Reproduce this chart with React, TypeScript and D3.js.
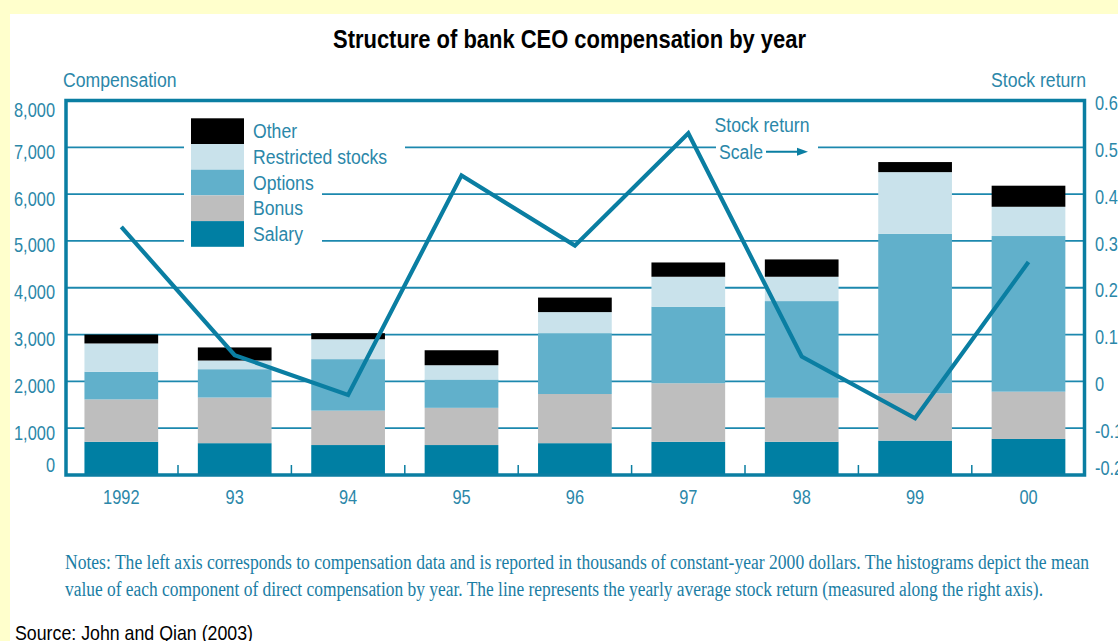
import React from "react";
import * as d3 from "d3";

const years = ["1992", "93", "94", "95", "96", "97", "98", "99", "00"];
const salary = [710, 680, 640, 640, 680, 710, 710, 735, 770];
const bonus = [905, 975, 735, 795, 1050, 1250, 940, 1010, 1010];
const options = [590, 605, 1100, 605, 1300, 1635, 2065, 3405, 3325];
const restricted = [605, 185, 425, 305, 450, 640, 520, 1320, 625];
const other = [190, 280, 130, 320, 310, 305, 370, 215, 450];
const stockReturn = [0.33, 0.056, -0.029, 0.44, 0.29, 0.53, 0.053, -0.079, 0.255];

const seriesKeys = ["salary", "bonus", "options", "restricted", "other"];
const seriesNames = ["Salary", "Bonus", "Options", "Restricted stocks", "Other"];
const seriesColors = ["#007fa3", "#bebebe", "#61b0cb", "#c9e2eb", "#000000"];

const leftTicks = [0, 1000, 2000, 3000, 4000, 5000, 6000, 7000, 8000];
const rightTicks = [-0.2, -0.1, 0, 0.1, 0.2, 0.3, 0.4, 0.5, 0.6];

const title = "Structure of bank CEO compensation by year";
const noteLine1 =
  "Notes: The left axis corresponds to compensation data and is reported in thousands of constant-year 2000 dollars. The histograms depict the mean";
const noteLine2 =
  "value of each component of direct compensation by year. The line represents the yearly average stock return (measured along the right axis).";
const source = "Source: John and Qian (2003)";

const W = 1118;
const H = 641;
const PL = 66;
const PR = 1084.5;
const PT = 100.5;
const PB = 475;

const TEAL = "#0a7ea2";
const TXT = "#2b87a9";
const SANS = "'Liberation Sans', Arial, sans-serif";

function CT(props: any) {
  const { x, y, sx = 0.84, size = 21, anchor = "start", fill = TXT, children, weight } = props;
  return (
    <text
      transform={`translate(${x},${y}) scale(${sx},1)`}
      fontFamily={SANS}
      fontSize={size}
      textAnchor={anchor}
      fill={fill}
      fontWeight={weight}
    >
      {children}
    </text>
  );
}

export default function App() {
  const data = years.map((yr, i) => ({
    year: yr,
    salary: salary[i],
    bonus: bonus[i],
    options: options[i],
    restricted: restricted[i],
    other: other[i],
  }));
  const stacked = d3.stack<any>().keys(seriesKeys)(data);

  const x = d3
    .scaleBand()
    .domain(years)
    .range([64.6, 1085.2])
    .paddingInner(0.35)
    .paddingOuter(0.175);
  const y = d3.scaleLinear().domain([0, 8000]).range([PB, PT]);
  const yr = d3.scaleLinear().domain([-0.2, 0.6]).range([PB, PT]);

  const line = d3
    .line<number>()
    .x((_, i) => (x(years[i]) as number) + x.bandwidth() / 2)
    .y((d) => yr(d));

  const fmtL = d3.format(",");
  const fmtR = (v: number) => (Math.abs(v) < 1e-9 ? "0" : v.toFixed(1));

  const legendTop = 118.3;
  const legendRow = 25.7;
  const legendOrder = [4, 3, 2, 1, 0];

  const arrowY = 151.7;

  return (
    <svg
      width={W}
      height={H}
      style={{ position: "absolute", left: 0, top: 0 }}
      xmlns="http://www.w3.org/2000/svg"
    >
      <rect x={0} y={0} width={W} height={H} fill="#ffffcc" />
      <rect x={10} y={14} width={W - 10} height={H - 14} fill="#ffffff" />

      {/* title */}
      <text
        x={333}
        y={48}
        fontFamily={SANS}
        fontWeight="bold"
        fontSize={25}
        textLength={473}
        lengthAdjust="spacingAndGlyphs"
        fill="#000"
      >
        {title}
      </text>

      {/* axis titles */}
      <CT x={63} y={87}>Compensation</CT>
      <CT x={1086} y={87} anchor="end">Stock return</CT>

      {/* gridlines */}
      {leftTicks
        .filter((t) => t > 0 && t < 8000)
        .map((t) => (
          <line key={t} x1={PL} x2={PR} y1={y(t)} y2={y(t)} stroke="#1c88ae" strokeWidth={1.8} />
        ))}

      {/* white backing for legend and annotation */}
      <rect x={184} y={112} width={221} height={58} fill="#fff" />
      <rect x={184} y={170} width={138} height={82} fill="#fff" />
      <rect x={716} y={112} width={102} height={48} fill="#fff" />

      {/* bars */}
      {stacked.map((s, si) => (
        <g key={s.key} fill={seriesColors[si]}>
          {s.map((d: any, i: number) => (
            <rect
              key={i}
              x={x(years[i]) as number}
              y={y(d[1])}
              width={x.bandwidth()}
              height={y(d[0]) - y(d[1])}
            />
          ))}
        </g>
      ))}

      {/* bottom ticks between bars */}
      {years.slice(0, -1).map((yrLabel) => {
        const bx = (x(yrLabel) as number) + x.bandwidth() + (x.step() - x.bandwidth()) / 2;
        return <line key={yrLabel} x1={bx} x2={bx} y1={PB} y2={PB - 10} stroke={TEAL} strokeWidth={1.5} />;
      })}

      {/* stock return line */}
      <path d={line(stockReturn) || ""} fill="none" stroke={TEAL} strokeWidth={4.2} strokeLinejoin="miter" />

      {/* legend */}
      {legendOrder.map((si, k) => {
        const yy = legendTop + k * legendRow;
        return (
          <g key={si}>
            <rect x={191} y={yy} width={53} height={legendRow} fill={seriesColors[si]} />
            <CT x={253} y={yy + legendRow / 2 + 7}>{seriesNames[si]}</CT>
          </g>
        );
      })}

      {/* annotation */}
      <CT x={762} y={132} anchor="middle">Stock return</CT>
      <CT x={719} y={159}>Scale</CT>
      <line x1={766} x2={800} y1={arrowY} y2={arrowY} stroke={TEAL} strokeWidth={2} />
      <path d={`M808,${arrowY} L797,${arrowY - 4} L797,${arrowY + 4} Z`} fill={TEAL} />

      {/* frame */}
      <rect x={PL} y={PT} width={PR - PL} height={PB - PT} fill="none" stroke={TEAL} strokeWidth={3.5} />

      {/* left tick labels */}
      {leftTicks.map((t) => (
        <CT
          key={t}
          x={55}
          y={y(t) + (t === 0 ? -10 : t === 8000 ? 9 : 4.5) + 7}
          anchor="end"
          size={20}
          sx={0.82}
        >
          {fmtL(t)}
        </CT>
      ))}

      {/* right tick labels */}
      {rightTicks.map((t) => (
        <CT
          key={t}
          x={1095}
          y={yr(t) + (t < -0.15 ? -6.7 : 2.6) + 7}
          size={20}
          sx={0.82}
        >
          {fmtR(t)}
        </CT>
      ))}

      {/* year labels */}
      {years.map((yrLabel) => (
        <CT
          key={yrLabel}
          x={(x(yrLabel) as number) + x.bandwidth() / 2}
          y={504}
          anchor="middle"
          size={20}
          sx={0.82}
        >
          {yrLabel}
        </CT>
      ))}

      {/* notes */}
      <text
        x={65}
        y={569}
        fontFamily="'Liberation Serif', 'Times New Roman', serif"
        fontSize={20}
        fill="#1a7da4"
        textLength={1024}
        lengthAdjust="spacingAndGlyphs"
      >
        {noteLine1}
      </text>
      <text
        x={65}
        y={596}
        fontFamily="'Liberation Serif', 'Times New Roman', serif"
        fontSize={20}
        fill="#1a7da4"
        textLength={978}
        lengthAdjust="spacingAndGlyphs"
      >
        {noteLine2}
      </text>

      {/* source */}
      <text
        x={15}
        y={640}
        fontFamily={SANS}
        fontSize={21}
        fill="#000"
        textLength={238}
        lengthAdjust="spacingAndGlyphs"
      >
        {source}
      </text>
    </svg>
  );
}
